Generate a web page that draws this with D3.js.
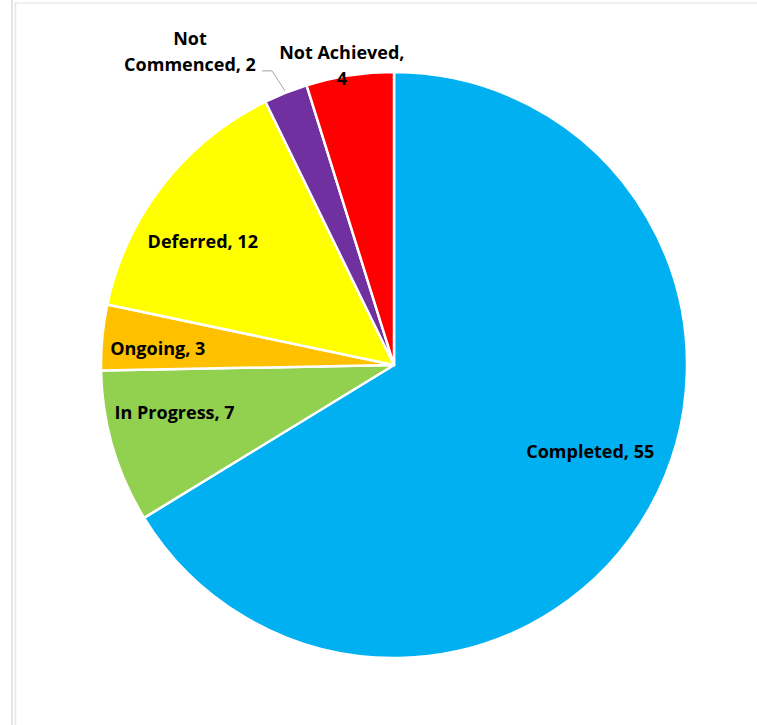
<!DOCTYPE html>
<html>
<head>
<meta charset="utf-8">
<script src="https://cdn.jsdelivr.net/npm/d3@7"></script>
<style>
  html, body { margin: 0; padding: 0; background: #fff; }
  svg { display: block; }
  text { font-family: "Open Sans", "Noto Sans", sans-serif; font-weight: 700; font-size: 18px; fill: #000; }
</style>
</head>
<body>
<svg id="chart" width="757" height="725"></svg>
<script>
// Status counts, clockwise from 12 o'clock
const categories = ["Completed", "In Progress", "Ongoing", "Deferred", "Not Commenced", "Not Achieved"];
const values = [55, 7, 3, 12, 2, 4];
const colors = ["#00B0F0", "#92D050", "#FFC000", "#FFFF00", "#7030A0", "#FF0000"];

const width = 757, height = 725;
const cx = 394, cy = 365, radius = 293;

const svg = d3.select("#chart");

// Frame of the chart area
svg.append("line").attr("x1", 12).attr("y1", 0).attr("x2", 12).attr("y2", height)
  .attr("stroke", "#e4e6e2").attr("stroke-width", 2);
svg.append("line").attr("x1", 15.5).attr("y1", 3).attr("x2", 15.5).attr("y2", height)
  .attr("stroke", "#e4e6e2").attr("stroke-width", 1.5);
svg.append("line").attr("x1", 15).attr("y1", 3).attr("x2", width).attr("y2", 3)
  .attr("stroke", "#ebebeb").attr("stroke-width", 1.5);

const data = categories.map((c, i) => ({ name: c, value: values[i], color: colors[i] }));

const pie = d3.pie().sort(null).value(d => d.value).startAngle(0).endAngle(2 * Math.PI);
const arcs = pie(data);
const arc = d3.arc().innerRadius(0).outerRadius(radius);

const g = svg.append("g").attr("transform", `translate(${cx},${cy})`);

g.selectAll("path.slice")
  .data(arcs)
  .join("path")
  .attr("class", "slice")
  .attr("d", arc)
  .attr("fill", d => d.data.color)
  .attr("stroke", "#fff")
  .attr("stroke-width", 2.5)
  .attr("stroke-linejoin", "round");

// Polar helper (angle measured clockwise from 12 o'clock)
const polar = (a, r) => [r * Math.sin(a), -r * Math.cos(a)];

// Label layout inside the slices: radius fraction + nudge
const labelLayout = {
  "Completed":   { f: 0.76, dx: 2,   dy: -22 },
  "In Progress": { f: 0.78, dx: 0,   dy: -16 },
  "Ongoing":     { f: 0.81, dx: 0,   dy: 6 },
  "Deferred":    { f: 0.62, dx: -48, dy: -12 }
};

arcs.forEach(d => {
  const L = labelLayout[d.data.name];
  if (!L) return;
  const mid = (d.startAngle + d.endAngle) / 2;
  const [x, y] = polar(mid, radius * L.f);
  g.append("text")
    .attr("x", x + L.dx)
    .attr("y", y + L.dy)
    .attr("text-anchor", "middle")
    .attr("dy", "0.35em")
    .text(`${d.data.name}, ${d.data.value}`);
});

// Outside labels for the two thin top slices
const nc = arcs[4], na = arcs[5];
const ncMid = (nc.startAngle + nc.endAngle) / 2;
const naMid = (na.startAngle + na.endAngle) / 2;

const [ncx, ncy] = polar(ncMid, radius + 2);
g.append("polyline")
  .attr("points", [[ncx, ncy], [ncx - 13, ncy - 20], [ncx - 23, ncy - 20]].map(p => p.join(",")).join(" "))
  .attr("fill", "none").attr("stroke", "#a6a6a6").attr("stroke-width", 1);

const ncText = g.append("text").attr("text-anchor", "middle");
ncText.append("tspan").attr("x", ncx - 95).attr("y", ncy - 46).text("Not");
ncText.append("tspan").attr("x", ncx - 95).attr("y", ncy - 20).text(`Commenced, ${values[4]}`);

const [nax, nay] = polar(naMid, radius);
const naText = g.append("text").attr("text-anchor", "middle");
naText.append("tspan").attr("x", nax - 8).attr("y", nay - 16).text("Not Achieved,");
naText.append("tspan").attr("x", nax - 8).attr("y", nay + 10).text(`${values[5]}`);
</script>
</body>
</html>
